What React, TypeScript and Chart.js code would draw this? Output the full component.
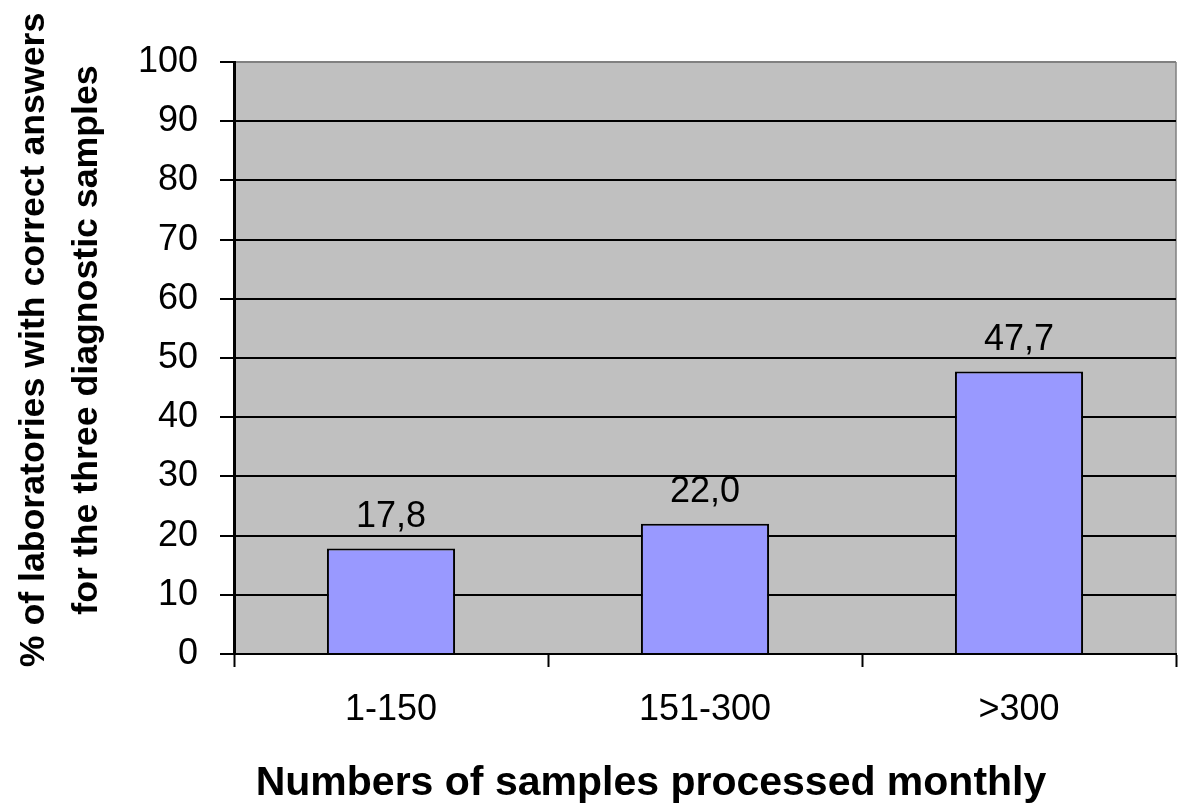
import React, { useEffect, useRef } from "react";
import { Chart, registerables } from "chart.js";

Chart.register(...registerables);

const categories = ["1-150", "151-300", ">300"];
const values = [17.8, 22.0, 47.7];
const valueLabels = ["17,8", "22,0", "47,7"];
const yTitleLines = ["% of laboratories with correct answers", "for the three diagnostic samples"];
const xTitle = "Numbers of samples processed monthly";

const FONT = "'Liberation Sans', Arial, Helvetica, sans-serif";

export default function App() {
  const ref = useRef<HTMLCanvasElement | null>(null);

  useEffect(() => {
    document.body.style.margin = "0";
    const canvas = ref.current;
    if (!canvas) return;

    const decor = {
      id: "decor",
      beforeDraw(chart: any) {
        const { ctx, chartArea } = chart;
        ctx.save();
        ctx.fillStyle = "#ffffff";
        ctx.fillRect(0, 0, chart.width, chart.height);
        ctx.fillStyle = "#C0C0C0";
        ctx.fillRect(chartArea.left, chartArea.top, chartArea.right - chartArea.left, chartArea.bottom - chartArea.top);
        ctx.strokeStyle = "#808080";
        ctx.lineWidth = 1.5;
        ctx.beginPath();
        ctx.moveTo(chartArea.right, chartArea.top);
        ctx.lineTo(chartArea.right, chartArea.bottom);
        ctx.stroke();
        ctx.restore();
      },
      afterDraw(chart: any) {
        const { ctx } = chart;
        ctx.save();
        ctx.fillStyle = "#000";
        // value labels
        ctx.font = `36px ${FONT}`;
        ctx.textAlign = "center";
        ctx.textBaseline = "alphabetic";
        const meta = chart.getDatasetMeta(0);
        meta.data.forEach((bar: any, i: number) => {
          ctx.fillText(valueLabels[i], bar.x, bar.y - 22);
        });
        // x title
        ctx.font = `bold 41px ${FONT}`;
        ctx.fillText(xTitle, 651, 795);
        // y title
        ctx.translate(0, 340);
        ctx.rotate(-Math.PI / 2);
        ctx.font = `bold 35.7px ${FONT}`;
        ctx.fillText(yTitleLines[0], 0, 44);
        ctx.fillText(yTitleLines[1], 0, 97);
        ctx.restore();
      },
    };

    const chart = new Chart(canvas, {
      type: "bar",
      data: {
        labels: categories,
        datasets: [
          {
            data: values,
            backgroundColor: "#9999FF",
            borderColor: "#000000",
            borderWidth: 2,
            barPercentage: 0.408,
            categoryPercentage: 1,
          },
        ],
      },
      options: {
        responsive: false,
        animation: false,
        devicePixelRatio: 1,
        layout: { padding: { top: 62, right: 24, left: 0, bottom: 0 } },
        plugins: {
          legend: { display: false },
          tooltip: { enabled: false },
        },
        scales: {
          x: {
            offset: true,
            grid: {
              offset: true,
              drawOnChartArea: false,
              drawTicks: true,
              tickLength: 13,
              tickColor: "#000",
              tickWidth: 2,
            },
            border: { display: true, color: "#000", width: 2 },
            ticks: {
              color: "#000",
              padding: 21,
              font: { family: FONT, size: 36 },
            },
            afterFit(scale: any) {
              scale.height = 157;
            },
          },
          y: {
            min: 0,
            max: 100,
            ticks: {
              stepSize: 10,
              color: "#000",
              padding: 22,
              font: { family: FONT, size: 36 },
            },
            grid: {
              color: (c: any) => (c.tick && c.tick.value === 100 ? "#808080" : "#000"),
              lineWidth: 2,
              tickLength: 14,
              tickColor: "#000",
              tickWidth: 2,
            },
            border: { display: true, color: "#000", width: 3 },
            afterFit(scale: any) {
              scale.width = 234;
            },
          },
        },
      },
      plugins: [decor],
    });

    return () => chart.destroy();
  }, []);

  return (
    <div style={{ width: 1200, height: 811 }}>
      <canvas ref={ref} width={1200} height={811} style={{ display: "block" }} />
    </div>
  );
}
